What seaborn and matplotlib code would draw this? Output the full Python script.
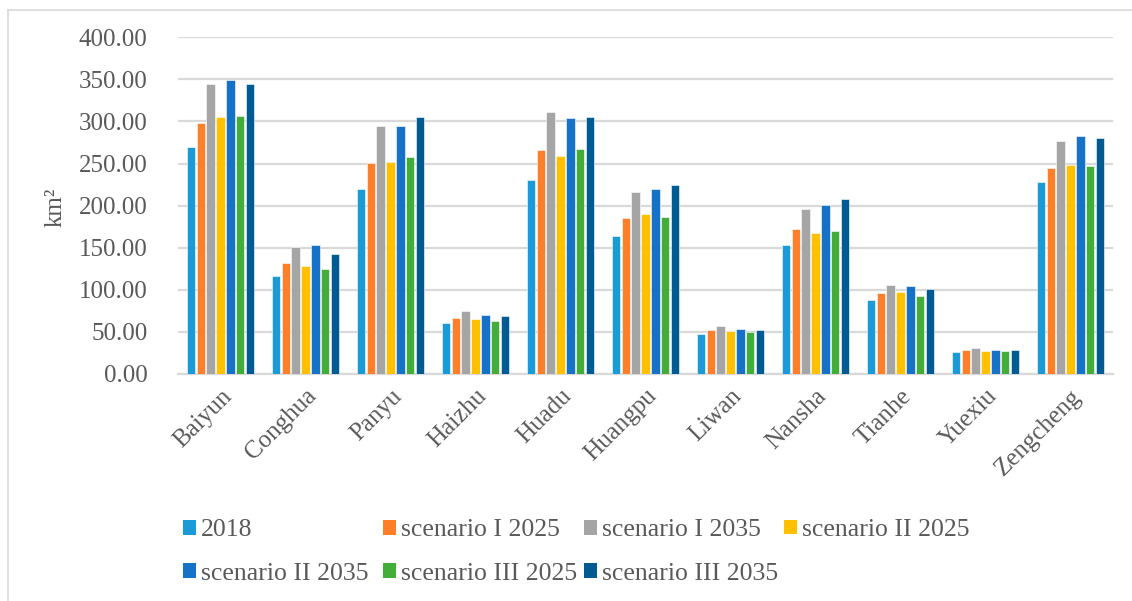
import numpy as np
import pandas as pd
import matplotlib
matplotlib.use("Agg")
import matplotlib.pyplot as plt
import seaborn as sns
from matplotlib.patches import Patch
from matplotlib.lines import Line2D

districts = ["Baiyun", "Conghua", "Panyu", "Haizhu", "Huadu", "Huangpu",
             "Liwan", "Nansha", "Tianhe", "Yuexiu", "Zengcheng"]
series_names = ["2018", "scenario I 2025", "scenario I 2035", "scenario II 2025",
                "scenario II 2035", "scenario III 2025", "scenario III 2035"]

v2018 = [269.4, 116.5, 219.9, 60.2, 230.6, 164.0, 47.9, 152.9, 88.0, 26.1, 228.6]
s1_2025 = [298.7, 131.5, 250.4, 66.6, 266.2, 185.0, 52.3, 172.7, 96.3, 28.5, 245.2]
s1_2035 = [344.7, 151.3, 294.8, 74.5, 311.8, 215.9, 57.1, 196.5, 106.2, 31.3, 276.9]
s2_2025 = [305.0, 128.0, 252.4, 65.4, 259.1, 190.2, 51.1, 168.0, 97.9, 27.7, 248.8]
s2_2035 = [349.8, 152.9, 294.4, 70.1, 304.3, 219.5, 53.1, 200.9, 104.2, 28.5, 282.9]
s3_2025 = [306.3, 124.4, 258.3, 62.6, 267.4, 187.0, 49.9, 170.4, 93.1, 27.3, 247.6]
s3_2035 = [344.3, 142.2, 305.9, 68.5, 305.1, 224.6, 52.3, 207.6, 101.4, 28.5, 280.1]

colors = ["#1A9AD7", "#FE7F2A", "#A5A5A5", "#FFC000", "#1572C6", "#43AD3A", "#005B93"]
yticks = [0, 50, 100, 150, 200, 250, 300, 350, 400]

all_vals = [v2018, s1_2025, s1_2035, s2_2025, s2_2035, s3_2025, s3_2035]
rows = []
for name, vals in zip(series_names, all_vals):
    for d, v in zip(districts, vals):
        rows.append({"district": d, "scenario": name, "area": v})
df = pd.DataFrame(rows)

sns.set_theme(style="white")
plt.rcParams["font.family"] = ["Liberation Serif", "DejaVu Serif"]
text_color = "#595959"
grid_color = "#D9D9D9"

W, H = 1132, 601
fig = plt.figure(figsize=(W / 100, H / 100), dpi=100)
ax = fig.add_axes([178 / W, 1 - 374 / H, (1113 - 178) / W, (374 - 37.3) / H])

sns.barplot(data=df, x="district", y="area", hue="scenario", order=districts,
            hue_order=series_names, palette=colors, saturation=1, width=0.82, gap=0.18,
            edgecolor="white", linewidth=0.4, legend=False, ax=ax, zorder=3)

ax.set_ylim(0, 400)
ax.set_xlim(-0.5, len(districts) - 0.5)
ax.set_yticks(yticks)
ax.set_yticklabels([f"{t:.2f}" for t in yticks], fontsize=18, color=text_color)
ax.yaxis.grid(True, color=grid_color, linewidth=1.6, zorder=0)
ax.set_axisbelow(True)
for s in ["top", "right", "left"]:
    ax.spines[s].set_visible(False)
ax.spines["bottom"].set_color(grid_color)
ax.spines["bottom"].set_linewidth(1.6)
ax.tick_params(axis="y", length=0, pad=22)
ax.tick_params(axis="x", length=0, pad=8)
ax.set_xticks(range(len(districts)))
ax.set_xticklabels(districts, rotation=45, ha="right", rotation_mode="anchor",
                   fontsize=18, color=text_color)
ax.set_xlabel("")
ax.set_ylabel("")
fig.text(56 / W, 1 - 207 / H, "km²", rotation=90, fontsize=18,
         color=text_color, ha="center", va="center")

handles = [Patch(facecolor=c, edgecolor="none") for c in colors]
columns = [[0, 4], [1, 5], [2, 6], [3]]
col_x = [183, 383, 584, 784]
for cx, idxs in zip(col_x, columns):
    n = len(idxs)
    cy = 530 if n == 1 else 552
    leg = fig.legend([handles[i] for i in idxs], [series_names[i] for i in idxs],
                     ncol=1, loc="center left", bbox_to_anchor=(cx / W, 1 - cy / H),
                     frameon=False, fontsize=18.5, handlelength=0.5, handleheight=0.5,
                     handletextpad=0.2, labelspacing=0.83,
                     borderaxespad=0, borderpad=0)
    for t in leg.get_texts():
        t.set_color(text_color)

# chart-area border
fig.add_artist(Line2D([8 / W, 1], [1 - 10 / H, 1 - 10 / H],
                      transform=fig.transFigure, color=grid_color, linewidth=1.2))
fig.add_artist(Line2D([8 / W, 8 / W], [0, 1 - 10 / H],
                      transform=fig.transFigure, color=grid_color, linewidth=1.2))

fig.savefig("out.png", dpi=100, facecolor="white")
